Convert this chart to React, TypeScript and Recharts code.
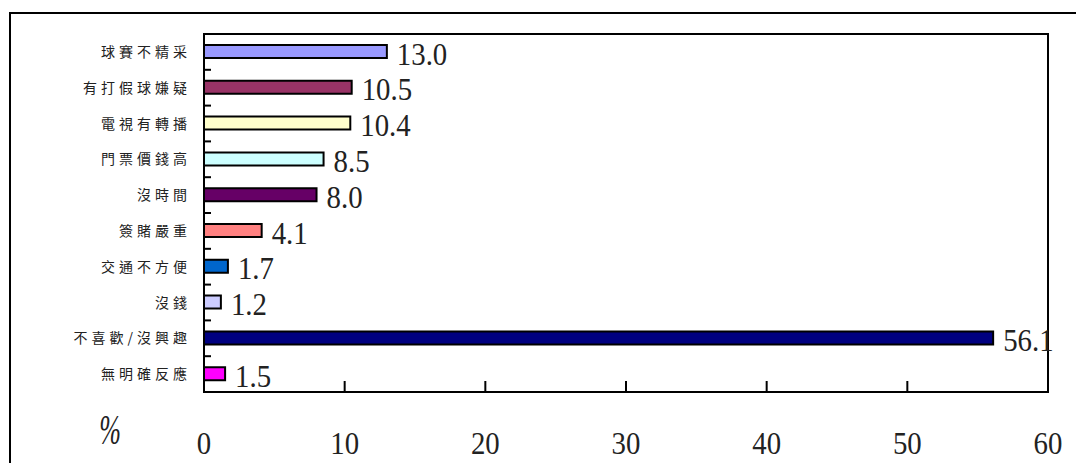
import React from 'react';
import { BarChart, Bar, XAxis, YAxis, Cell, LabelList, ReferenceArea } from 'recharts';

const categories = ['球賽不精采', '有打假球嫌疑', '電視有轉播', '門票價錢高', '沒時間', '簽賭嚴重', '交通不方便', '沒錢', '不喜歡/沒興趣', '無明確反應'];
const values = [13.0, 10.5, 10.4, 8.5, 8.0, 4.1, 1.7, 1.2, 56.1, 1.5];
const colors = ['#9999FF', '#993366', '#FFFFCC', '#CCFFFF', '#660066', '#FF8080', '#0066CC', '#CCCCFF', '#000080', '#FF00FF'];
const xTicks = [0, 10, 20, 30, 40, 50, 60];
const unitLabel = '%';

const data = categories.map((c, i) => ({ category: c, value: values[i] }));

const SERIF = '"Liberation Serif", "DejaVu Serif", serif';
const CJK = '"Noto Sans CJK TC", "Noto Sans CJK SC", sans-serif';

const XTick = (props: any) => {
  const { x, y, payload } = props;
  return (
    <g>
      <line x1={x} x2={x} y1={y} y2={y - 11} stroke="#000" strokeWidth={2} />
      <text
        x={0}
        y={0}
        transform={`translate(${x},${y + 62}) scale(0.9,1)`}
        textAnchor="middle"
        fontFamily={SERIF}
        fontSize={32}
        fill="#222"
      >
        {payload.value}
      </text>
    </g>
  );
};

const YTick = (props: any) => {
  const { x, y, payload, index } = props;
  return (
    <g>
      {index > 0 && <line x1={x} x2={x + 7} y1={y - 17.9} y2={y - 17.9} stroke="#000" strokeWidth={2} />}
      <text x={x - 13} y={y + 5} textAnchor="end" fontFamily={CJK} fontSize={14} letterSpacing={4} fill="#222">
        {payload.value}
      </text>
    </g>
  );
};

const ValueLabel = (props: any) => {
  const { x, y, width, height, value } = props;
  const tx = Number(x) + Number(width) + 10;
  const ty = Number(y) + Number(height) / 2 + 13;
  return (
    <text
      x={0}
      y={0}
      transform={`translate(${tx},${ty}) scale(0.9,1)`}
      fontFamily={SERIF}
      fontSize={32}
      fill="#222"
    >
      {Number(value).toFixed(1)}
    </text>
  );
};

const PercentLabel = (props: any) => {
  const { viewBox } = props;
  return (
    <text
      x={0}
      y={0}
      transform={`translate(${viewBox.x - 94},${viewBox.y + 52}) scale(0.62,1)`}
      textAnchor="middle"
      fontFamily={SERIF}
      fontStyle="italic"
      fontSize={42}
      fill="#222"
    >
      {unitLabel}
    </text>
  );
};

export default function App() {
  return (
    <div style={{ position: 'absolute', left: 0, top: 0, width: 1076, height: 463, overflow: 'hidden', background: '#fff' }}>
      <div
        style={{
          position: 'absolute',
          left: 9,
          top: 12,
          width: 1200,
          height: 600,
          borderLeft: '2.5px solid #000',
          borderTop: '2.5px solid #000',
        }}
      />
      <div style={{ position: 'absolute', left: 0, top: 0 }}>
        <BarChart
          width={1076}
          height={463}
          data={data}
          layout="vertical"
          margin={{ top: 34, right: 28, left: 0, bottom: 0 }}
          barCategoryGap={0}
        >
          <XAxis
            type="number"
            domain={[0, 60]}
            ticks={xTicks}
            height={71}
            axisLine={{ stroke: '#000', strokeWidth: 2 }}
            tickLine={false}
            tickSize={0}
            tickMargin={0}
            tick={<XTick />}
            interval={0}
            label={<PercentLabel />}
          />
          <YAxis
            type="category"
            dataKey="category"
            width={204}
            axisLine={{ stroke: '#000', strokeWidth: 2 }}
            tickLine={false}
            tickSize={0}
            tickMargin={0}
            tick={<YTick />}
            interval={0}
          />
          <Bar dataKey="value" barSize={13} stroke="#000" strokeWidth={2} isAnimationActive={false}>
            {data.map((d, i) => (
              <Cell key={d.category} fill={colors[i]} />
            ))}
            <LabelList dataKey="value" content={<ValueLabel />} />
          </Bar>
          <ReferenceArea x1={0} x2={60} fill="none" stroke="#000" strokeWidth={2} ifOverflow="visible" />
        </BarChart>
      </div>
    </div>
  );
}
